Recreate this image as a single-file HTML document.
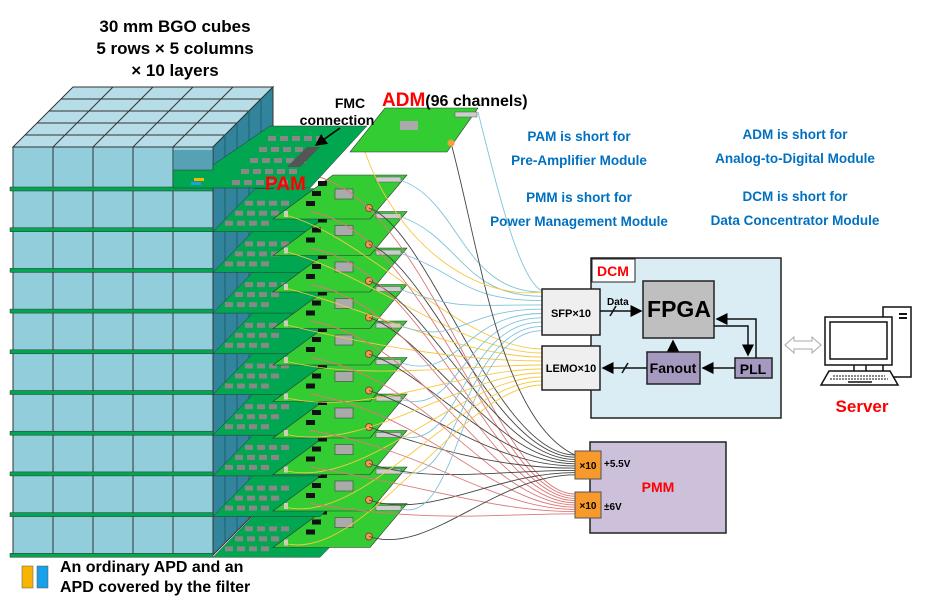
<!DOCTYPE html>
<html><head><meta charset="utf-8"><style>
body{margin:0;background:#fff;width:947px;height:607px;overflow:hidden;font-family:"Liberation Sans",sans-serif}
svg{position:absolute;left:0;top:0}
text{font-family:"Liberation Sans",sans-serif;font-weight:bold}
</style></head><body>
<svg id="s" width="947" height="607" viewBox="0 0 947 607">
<defs>
<marker id="ar" markerWidth="8" markerHeight="8" refX="7" refY="4" orient="auto"><path d="M0,0 L8,4 L0,8z" fill="#000"/></marker>
</defs>
<g id="cube"></g>
<g id="boards"></g>
<g id="wires" fill="none" stroke-width="0.9"></g>
<g id="top"></g>

<text x="175" y="32" font-size="17" text-anchor="middle">30 mm BGO cubes</text>
<text x="175" y="54" font-size="17" text-anchor="middle">5 rows × 5 columns</text>
<text x="175" y="76" font-size="17" text-anchor="middle">× 10 layers</text>
<text x="350" y="108" font-size="14" text-anchor="middle">FMC</text>
<text x="337" y="125" font-size="14" text-anchor="middle">connection</text>
<line x1="340" y1="128" x2="316" y2="145" stroke="#000" stroke-width="1.5" marker-end="url(#ar)"/>
<text x="382" y="106" font-size="19"><tspan fill="#f00">ADM</tspan><tspan font-size="16">(96 channels)</tspan></text>
<text x="265" y="190" font-size="19" fill="#f00">PAM</text>

<g fill="#0070c0" font-size="13.5" text-anchor="middle">
<text x="579" y="141">PAM is short for</text>
<text x="579" y="165">Pre-Amplifier Module</text>
<text x="579" y="202">PMM is short for</text>
<text x="579" y="226">Power Management Module</text>
<text x="795" y="139">ADM is short for</text>
<text x="795" y="163">Analog-to-Digital Module</text>
<text x="795" y="201">DCM is short for</text>
<text x="795" y="225">Data Concentrator Module</text>
</g>

<rect x="591" y="258" width="190" height="160" fill="#daedf4" stroke="#222" stroke-width="1.5"/>
<rect x="592" y="259" width="43" height="23" fill="#fff" stroke="#222"/>
<text x="613" y="276" font-size="14" fill="#f00" text-anchor="middle">DCM</text>
<rect x="542" y="289" width="58" height="46" fill="#efefef" stroke="#222" stroke-width="1.5"/>
<text x="571" y="317" font-size="11" text-anchor="middle">SFP×10</text>
<rect x="542" y="346" width="58" height="44" fill="#efefef" stroke="#222" stroke-width="1.5"/>
<text x="571" y="372" font-size="11" text-anchor="middle">LEMO×10</text>
<rect x="643" y="281" width="71" height="57" fill="#bfbfbf" stroke="#222" stroke-width="1.5"/>
<text x="679" y="317" font-size="23" text-anchor="middle">FPGA</text>
<rect x="647" y="352" width="53" height="32" fill="#a699c0" stroke="#222" stroke-width="1.5"/>
<text x="673" y="373" font-size="14" text-anchor="middle">Fanout</text>
<rect x="735" y="358" width="37" height="20" fill="#a699c0" stroke="#222" stroke-width="1.5"/>
<text x="753" y="374" font-size="14" text-anchor="middle">PLL</text>
<g stroke="#111" stroke-width="1.5" fill="none">
<line x1="600" y1="311" x2="641" y2="311" marker-end="url(#ar)"/>
<line x1="610" y1="316" x2="616" y2="306"/>
<line x1="673" y1="352" x2="673" y2="341" marker-end="url(#ar)"/>
<line x1="735" y1="368" x2="703" y2="368" marker-end="url(#ar)"/>
<line x1="647" y1="368" x2="603" y2="368" marker-end="url(#ar)"/>
<line x1="622" y1="373" x2="628" y2="363"/>
<polyline points="714,326 748,326 748,355" marker-end="url(#ar)"/>
<polyline points="756,358 756,319 717,319" marker-end="url(#ar)"/>
</g>
<text x="607" y="305" font-size="10">Data</text>

<path d="M785,345 L794,337 L794,341 L812,341 L812,337 L821,345 L812,353 L812,349 L794,349 L794,353z" fill="#fff" stroke="#aaa"/>
<rect x="883" y="307" width="28" height="70" fill="#fff" stroke="#111" stroke-width="1.5"/>
<rect x="899" y="313" width="8" height="2" fill="#111"/><rect x="899" y="317" width="8" height="2" fill="#111"/>
<rect x="825" y="317" width="67" height="48" fill="#fff" stroke="#111" stroke-width="1.5"/>
<rect x="830" y="322" width="57" height="37" fill="#fff" stroke="#111" stroke-width="1.5"/>
<line x1="854" y1="365" x2="854" y2="371" stroke="#111" stroke-width="1.5"/><line x1="866" y1="365" x2="866" y2="371" stroke="#111" stroke-width="1.5"/>
<path d="M829,371 L890,371 L898,385 L821,385z" fill="#fff" stroke="#111" stroke-width="1.5"/>
<line x1="833" y1="376" x2="885" y2="376" stroke="#111" stroke-dasharray="2 1"/>
<line x1="830" y1="379" x2="888" y2="379" stroke="#111" stroke-dasharray="2 1"/>
<line x1="848" y1="382" x2="872" y2="382" stroke="#111" stroke-width="1.5"/>
<text x="862" y="412" font-size="17" fill="#f00" text-anchor="middle">Server</text>

<rect x="590" y="442" width="136" height="91" fill="#ccc0da" stroke="#222" stroke-width="1.5"/>
<rect x="575" y="451" width="26" height="28" fill="#f79a2b" stroke="#555"/>
<rect x="575" y="492" width="26" height="26" fill="#f79a2b" stroke="#555"/>
<text x="588" y="469" font-size="10" text-anchor="middle">×10</text>
<text x="588" y="509" font-size="10" text-anchor="middle">×10</text>
<text x="604" y="467" font-size="10">+5.5V</text>
<text x="604" y="510" font-size="10">±6V</text>
<text x="658" y="492" font-size="14" fill="#f00" text-anchor="middle">PMM</text>

<rect x="22" y="566" width="11" height="22" fill="#f8b400" stroke="#555" stroke-width=".5"/>
<rect x="37" y="566" width="11" height="22" fill="#1aa0e8" stroke="#555" stroke-width=".5"/>
<text x="60" y="572" font-size="16">An ordinary APD and an</text>
<text x="60" y="592" font-size="16">APD covered by the filter</text>
</svg>
<script>
var NS="http://www.w3.org/2000/svg";
function el(p,t,a){var e=document.createElementNS(NS,t);for(var k in a)e.setAttribute(k,a[k]);document.getElementById(p).appendChild(e);return e;}
el("cube","polygon",{points:"13,147 213,147 273,87 73,87",fill:"#b7dde8",stroke:"#333"});
el("cube","polygon",{points:"213,147 273,87 273,495 213,555",fill:"#31849b",stroke:"#333"});
el("cube","rect",{x:13,y:147,width:200,height:408,fill:"#92cddc",stroke:"#333"});
for(var i=1;i<5;i++){var x=13+40*i;el("cube","line",{x1:x,y1:147,x2:x,y2:555,stroke:"#333"});
 el("cube","line",{x1:x,y1:147,x2:x+60,y2:87,stroke:"#333"});
 el("cube","line",{x1:13+12*i,y1:147-12*i,x2:213+12*i,y2:147-12*i,stroke:"#333"});
 el("cube","line",{x1:213+12*i,y1:147-12*i,x2:213+12*i,y2:555-12*i,stroke:"#1f5f70"});}
var seps=[];for(var i=0;i<10;i++)seps.push(188+40.7*i);
seps.forEach(function(y){el("cube","line",{x1:13,y1:y,x2:213,y2:y,stroke:"#333"});});
el("cube","rect",{x:173,y:150,width:40,height:35,fill:"#31849b",opacity:.6});
for(var i=9;i>=0;i--){var s=seps[i];var yt=175+36.5*i;
 el("boards","polygon",{points:"10,"+(s-1)+" 213,"+(s-1)+" 213,"+(s+3)+" 10,"+(s+3),fill:"#00a650",stroke:"#333","stroke-width":.5});
 if(i>0){
 el("boards","polygon",{points:"213,"+(s+3)+" 320,"+(s+3)+" 362,"+(s-40)+" 255,"+(s-40),fill:"#00a650",stroke:"#333","stroke-width":.5});
 for(var r=0;r<3;r++)for(var c=0;c<4;c++)el("boards","rect",{x:225+c*12+r*10,y:s-8-r*10,width:8,height:5,fill:"#888"});
 }
 el("boards","polygon",{points:"333,"+yt+" 407,"+yt+" 370,"+(yt+44)+" 273,"+(yt+44),fill:"#33cc33",stroke:"#333","stroke-width":.6});
 el("boards","rect",{x:335,y:yt+14,width:18,height:10,fill:"#aaa",stroke:"#333","stroke-width":.5});
 el("boards","rect",{x:376,y:yt+2,width:25,height:5,fill:"#ccc",stroke:"#555","stroke-width":.5});
 for(var k=0;k<3;k++)el("boards","rect",{x:318-k*6,y:yt+6+k*10,width:9,height:5,fill:"#111"});
 el("boards","rect",{x:284,y:yt+36,width:4,height:6,fill:"#ccc"});
 el("boards","circle",{cx:310,cy:yt,r:3.5,fill:"#f0a040",stroke:"#844"});
 el("boards","circle",{cx:369,cy:yt+33,r:3.5,fill:"#f0a040",stroke:"#844"});
}
el("top","polygon",{points:"173,188 310,188 367,126 270,126 213,165 213,170 173,170",fill:"#00a650",stroke:"#333","stroke-width":.5});
for(var r=0;r<5;r++)for(var c=0;c<5;c++)el("top","rect",{x:232+c*12+r*9,y:180-r*11,width:8,height:5,fill:"#888"});
el("top","polygon",{points:"287,167 300,167 320,147 307,147",fill:"#555"});
el("top","rect",{x:194,y:178,width:10,height:3,fill:"#f8b400"});
el("top","rect",{x:191,y:182,width:10,height:3,fill:"#1aa0e8"});
el("top","polygon",{points:"385,108 478,108 447,152 350,152",fill:"#33cc33",stroke:"#333","stroke-width":.6});
el("top","rect",{x:400,y:121,width:18,height:9,fill:"#aaa"});
el("top","rect",{x:455,y:112,width:22,height:5,fill:"#ccc",stroke:"#555","stroke-width":.5});
el("top","circle",{cx:451,cy:143,r:3.5,fill:"#f0a040"});
for(var i=0;i<10;i++){var yt=175+36.5*i;
 var w=function(c,x1,y1,x2,y2,b){el("wires","path",{d:"M"+x1+","+y1+" C"+(x1+b)+","+(y1+20)+" "+(x2-80)+","+y2+" "+x2+","+y2,stroke:c});};
 w("#7ec3d8",400,yt+5,542,292+i*4.3,60);
 w("#f5c842",285,yt+40,542,349+i*4,80);
 w("#444",369,yt+33,575,455+i*2.2,60);
 w("#d77",310,yt,575,494+i*2.2,120);
}
el("wires","path",{d:"M451,143 C480,250 500,420 575,455",stroke:"#444"});
el("wires","path",{d:"M365,152 C400,250 480,300 542,292",stroke:"#f5c842"});
el("wires","path",{d:"M478,112 C500,200 520,280 542,291",stroke:"#7ec3d8"});
</script>
</body></html>
